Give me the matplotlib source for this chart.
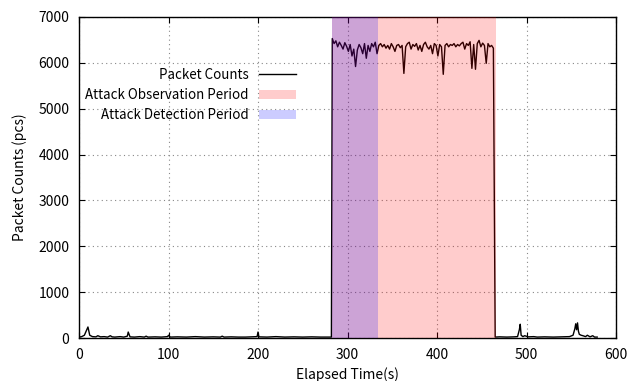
import numpy as np
from matplotlib import pyplot as plt

plt.rcParams['font.family'] = ['Noto Sans CJK JP', 'DejaVu Sans']

# packet counts before the attack (sparse samples, seconds)
pre_t = [0, 3, 6, 8, 10, 12, 15, 19, 21, 24, 28, 32, 35, 37, 40, 46, 50, 54, 55, 57,
         62, 68, 73, 75, 77, 85, 92, 99, 100, 102, 110, 120, 130, 140, 150, 158, 160, 162, 170, 178,
         186, 194, 199, 200, 201, 210, 220, 230, 240, 250, 260, 270, 282]
pre_v = [20, 30, 60, 150, 240, 60, 30, 25, 50, 25, 30, 20, 50, 25, 20, 30, 20, 40, 130, 25,
         20, 30, 20, 40, 20, 25, 20, 30, 60, 20, 25, 20, 30, 20, 25, 20, 40, 20, 25, 20,
         20, 25, 30, 130, 25, 20, 30, 20, 25, 20, 25, 20, 20]

# packet counts during the attack (every 2 s from 283 s)
atk_t0 = 283
atk_v = [6530, 6420, 6480, 6350, 6450, 6380, 6300, 6440, 6360, 6250,
         6400, 6150, 6300, 5920, 6280, 6400, 6330, 6200, 6420, 6100,
         6380, 6250, 6420, 6350, 6450, 6200, 6380, 6420, 6350, 6400,
         6320, 6380, 6300, 6420, 6350, 6250, 6380, 6400, 6330, 6380,
         5770, 6350, 6420, 6450, 6300, 6400, 6360, 6420, 6280, 6380,
         6250, 6400, 6450, 6350, 6300, 6380, 6200, 6420, 6380, 6150,
         6400, 6350, 5750, 6380, 6420, 6350, 6400, 6380, 6420, 6350,
         6400, 6370, 6420, 6450, 6300, 6420, 6380, 6460, 5880, 6400,
         5860, 6420, 6490, 6350, 6430, 6380, 5990, 6420, 6350, 6380,
         6320]

# packet counts after the attack
post_t = [465, 470, 478, 486, 490, 492, 493, 494, 496, 498, 502, 508, 512, 520, 530, 540,
          548, 552, 554, 555, 556, 557, 558, 559, 561, 563, 566, 568, 571, 574, 576, 579]
post_v = [20, 25, 20, 25, 30, 180, 300, 60, 30, 50, 25, 30, 20, 25, 20, 25,
          30, 60, 200, 310, 180, 330, 150, 80, 60, 50, 30, 60, 25, 50, 20, 20]

obs_period = (283, 466)
det_period = (283, 334)

atk_t = np.arange(atk_t0, atk_t0 + 2 * len(atk_v), 2)
t = np.concatenate([pre_t, atk_t, post_t])
v = np.concatenate([pre_v, atk_v, post_v])

fig = plt.figure(figsize=(6.32, 3.81), dpi=100)
ax = fig.add_axes([79 / 632, 1 - 338 / 381, (616 - 79) / 632, (338 - 17) / 381])

ax.plot(t, v, color='black', lw=1.0, label='Packet Counts', zorder=2)
ax.axvspan(*obs_period, color='red', alpha=0.2, lw=0, zorder=3, label='Attack Observation Period')
ax.axvspan(*det_period, color='blue', alpha=0.2, lw=0, zorder=3, label='Attack Detection Period')

ax.set_xlim(0, 600)
ax.set_ylim(0, 7000)
ax.set_xticks(range(0, 601, 100))
ax.set_yticks(range(0, 7001, 1000))
ax.grid(True, color='#888888', linestyle=(0, (1, 3)), lw=0.8)
ax.set_axisbelow(True)
ax.tick_params(direction='in', length=4, top=True, right=True, labelsize=10, pad=7)
for s in ax.spines.values():
    s.set_linewidth(1.0)

ax.set_xlabel('Elapsed Time(s)', fontsize=10)
ax.set_ylabel('Packet Counts\u2009(pcs)', fontsize=10, labelpad=8)

leg = ax.legend(loc='upper right', bbox_to_anchor=((296 - 79) / 537, (338 - 68) / 321),
                markerfirst=False, frameon=False, fontsize=9.6, borderpad=0, borderaxespad=0,
                handlelength=2.8, handletextpad=0.75, labelspacing=0.45)

plt.savefig('out.png', dpi=100)
